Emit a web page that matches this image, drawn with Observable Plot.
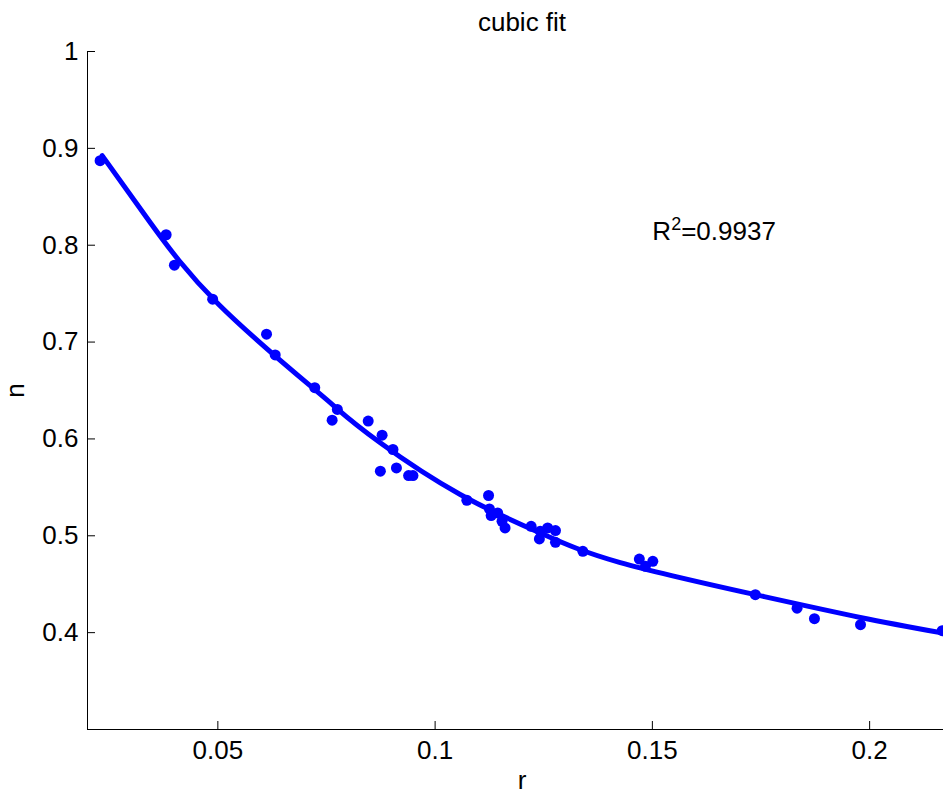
<!DOCTYPE html>
<html><head><meta charset="utf-8">
<script src="https://cdn.jsdelivr.net/npm/d3@7"></script>
<script src="https://cdn.jsdelivr.net/npm/@observablehq/plot@0.6"></script>
<style>
body{margin:0;background:#fff;overflow:hidden}
svg{display:block}
</style>
</head><body><div id="chart"></div>
<script>
const title = "cubic fit";
const xLabel = "r";
const yLabel = "n";
const annotation = "R2=0.9937";
const annotationPos = [0.15, 0.81];

const xTicks = [0.05, 0.1, 0.15, 0.2];
const xTickLabels = ["0.05", "0.1", "0.15", "0.2"];
const yTicks = [0.4, 0.5, 0.6, 0.7, 0.8, 0.9, 1];
const yTickLabels = ["0.4", "0.5", "0.6", "0.7", "0.8", "0.9", "1"];

// observed points
const rObs = [0.0229, 0.0381, 0.0400, 0.0488, 0.0612, 0.0632, 0.0723, 0.0775, 0.0763, 0.0846,
  0.0878, 0.0903, 0.0874, 0.0911, 0.0939, 0.0949, 0.1073, 0.1123, 0.1125, 0.1129,
  0.1144, 0.1154, 0.1161, 0.1221, 0.1242, 0.1240, 0.1259, 0.1277, 0.1277, 0.1340,
  0.1470, 0.1484, 0.1501, 0.1737, 0.1833, 0.1873, 0.1979, 0.2167];
const nObs = [0.8873, 0.8108, 0.7794, 0.7443, 0.7081, 0.6867, 0.6529, 0.6305, 0.6194, 0.6184,
  0.6039, 0.5891, 0.5667, 0.5701, 0.5622, 0.5622, 0.5367, 0.5416, 0.5277, 0.5209,
  0.5236, 0.5150, 0.5081, 0.5098, 0.5047, 0.4967, 0.5081, 0.5054, 0.4933, 0.4840,
  0.4760, 0.4685, 0.4736, 0.4392, 0.4253, 0.4144, 0.4082, 0.4020];

// fitted cubic curve
const rFit = [0.02338, 0.03443, 0.05015, 0.07225, 0.07754, 0.08737, 0.10578,
  0.12420, 0.14261, 0.17368, 0.19785, 0.21695];
const nFit = [0.8925, 0.8235, 0.7391, 0.6512, 0.6308, 0.5960, 0.5426,
  0.5029, 0.4723, 0.4392, 0.4157, 0.3995];

const obs = rObs.map((r, i) => ({r, n: nObs[i]}));
const fit = rFit.map((r, i) => ({r, n: nFit[i]}));

const font = "'Liberation Sans', Arial, Helvetica, sans-serif";
const blue = "#0000ff";
const fs = 26;

const chart = Plot.plot({
  width: 943,
  height: 796,
  marginLeft: 87,
  marginRight: 0,
  marginTop: 51,
  marginBottom: 67,
  style: {fontFamily: font, fontSize: fs + "px", color: "#000", background: "#fff", overflow: "visible"},
  x: {domain: [0.02, 0.217], label: null},
  y: {domain: [0.3, 1], label: null},
  marks: [
    Plot.ruleX([0.02], {stroke: "#000", strokeWidth: 1}),
    Plot.ruleY([0.3], {stroke: "#000", strokeWidth: 1}),
    Plot.axisX(xTicks, {tickSize: -8, tickPadding: 19, tickFormat: (d, i) => xTickLabels[i], fontSize: fs, label: null, stroke: "#000"}),
    Plot.axisY(yTicks, {tickSize: -8, tickPadding: 17, tickFormat: (d, i) => yTickLabels[i], fontSize: fs, label: null, stroke: "#000"}),
    Plot.line(fit, {x: "r", y: "n", stroke: blue, strokeWidth: 5, curve: "natural"}),
    Plot.dot(obs, {x: "r", y: "n", r: 5.5, fill: blue, stroke: "none"}),
    Plot.text([annotation], {x: () => annotationPos[0], y: () => annotationPos[1], text: d => d, textAnchor: "start", lineAnchor: "middle", dy: -4, fontSize: fs, fill: "#000", className: "r2note"}),
    Plot.text([title], {x: () => 0.12, frameAnchor: "top", lineAnchor: "middle", dy: -29, text: d => d, fontSize: fs, fill: "#000"}),
    Plot.text([xLabel], {x: () => 0.12, frameAnchor: "bottom", lineAnchor: "middle", dy: 51, text: d => d, fontSize: fs, fill: "#000"}),
    Plot.text([yLabel], {frameAnchor: "left", textAnchor: "middle", lineAnchor: "middle", dx: -72, rotate: -90, text: d => d, fontSize: fs, fill: "#000"})
  ]
});
// render the "2" of R2 as a superscript
chart.querySelectorAll("g.r2note text").forEach(t => {
  t.textContent = "";
  const ns = "http://www.w3.org/2000/svg";
  const a = document.createElementNS(ns, "tspan"); a.textContent = "R";
  const b = document.createElementNS(ns, "tspan"); b.textContent = "2";
  b.setAttribute("dy", "-10"); b.setAttribute("font-size", "18");
  const c = document.createElementNS(ns, "tspan"); c.textContent = "=0.9937";
  c.setAttribute("dy", "10");
  t.append(a, b, c);
});
document.getElementById("chart").appendChild(chart);
</script>
</body></html>
